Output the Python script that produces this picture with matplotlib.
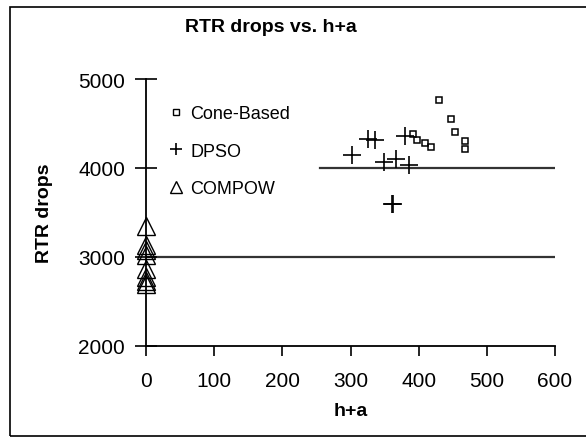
import matplotlib.pyplot as plt
from matplotlib.lines import Line2D
from matplotlib.patches import Rectangle

# --- Data ---
cone_x = [391, 397, 410, 418, 430, 447, 453, 468, 468]
cone_y = [4380, 4320, 4280, 4235, 4765, 4545, 4410, 4300, 4215]

dpso_x = [302, 326, 336, 380, 367, 349, 386, 361, 362.5]
dpso_y = [4145, 4325, 4315, 4355, 4100, 4065, 4035, 3600, 3590]

compow_x = [0, 0, 0, 0, 0, 0, 0, 0]
compow_y = [3350, 3140, 3080, 3020, 2870, 2780, 2730, 2700]

# reference levels drawn across the plot
level_y = [3000, 4000]
level_xmin = [0, 255]
level_xmax = [600, 600]

x_ticks = [0, 100, 200, 300, 400, 500, 600]
y_ticks = [2000, 3000, 4000, 5000]

plt.rcParams['font.family'] = ['Liberation Sans', 'DejaVu Sans']

fig = plt.figure(figsize=(5.86, 4.39), dpi=100)
W, H = 586, 439
ax = fig.add_axes([146 / W, 1 - 347 / H, 409 / W, 267 / H])

# outer chart border
fig.patches.append(Rectangle((10 / W, 2 / H), 1.2, 1 - 10 / H, transform=fig.transFigure,
                             fill=False, edgecolor='black', linewidth=1.2))

for y, x0, x1 in zip(level_y, level_xmin, level_xmax):
    ax.plot([x0, x1], [y, y], color='#333333', linewidth=1.6, zorder=1)

ax.plot(compow_x, compow_y, linestyle='none', marker='^', markersize=13,
        markerfacecolor='none', markeredgecolor='black', markeredgewidth=1.0, zorder=3,
        clip_on=False)
ax.plot(dpso_x, dpso_y, linestyle='none', marker='+', markersize=13,
        color='black', markeredgewidth=1.2, zorder=3)
ax.plot(cone_x, cone_y, linestyle='none', marker='s', markersize=4.5,
        markerfacecolor='none', markeredgecolor='black', markeredgewidth=1.1, zorder=3)

ax.set_xlim(0, 600)
ax.set_ylim(2000, 5000)
ax.set_xticks(x_ticks)
ax.set_yticks(y_ticks)
ax.tick_params(axis='x', direction='out', length=7, width=1.2, labelsize=15, pad=11)
ax.tick_params(axis='y', direction='inout', length=16, width=1.2, labelsize=15, pad=7)

for side in ['top', 'right']:
    ax.spines[side].set_visible(False)
for side in ['left', 'bottom']:
    ax.spines[side].set_linewidth(1.3)

ax.set_xlabel('h+a', fontsize=14, fontweight='bold', labelpad=9)
ax.set_ylabel('RTR drops', fontsize=14, fontweight='bold', labelpad=18)
fig.text(271 / W, 1 - 28 / H, 'RTR drops vs. h+a', fontsize=14, fontweight='bold',
         ha='center', va='center')

handles = [
    Line2D([], [], linestyle='none', marker='s', markersize=4, markerfacecolor='none',
           markeredgecolor='black', markeredgewidth=1.0),
    Line2D([], [], linestyle='none', marker='+', markersize=8, color='black',
           markeredgewidth=1.2),
    Line2D([], [], linestyle='none', marker='^', markersize=8, markerfacecolor='none',
           markeredgecolor='black', markeredgewidth=1.0),
]
ax.legend(handles, ['Cone-Based', 'DPSO', 'COMPOW'], loc='upper left',
          bbox_to_anchor=(0.04, 0.93), frameon=False, fontsize=13,
          handlelength=0.7, handletextpad=0.45, labelspacing=1.15, borderaxespad=0)

plt.savefig('out.png', dpi=100)
